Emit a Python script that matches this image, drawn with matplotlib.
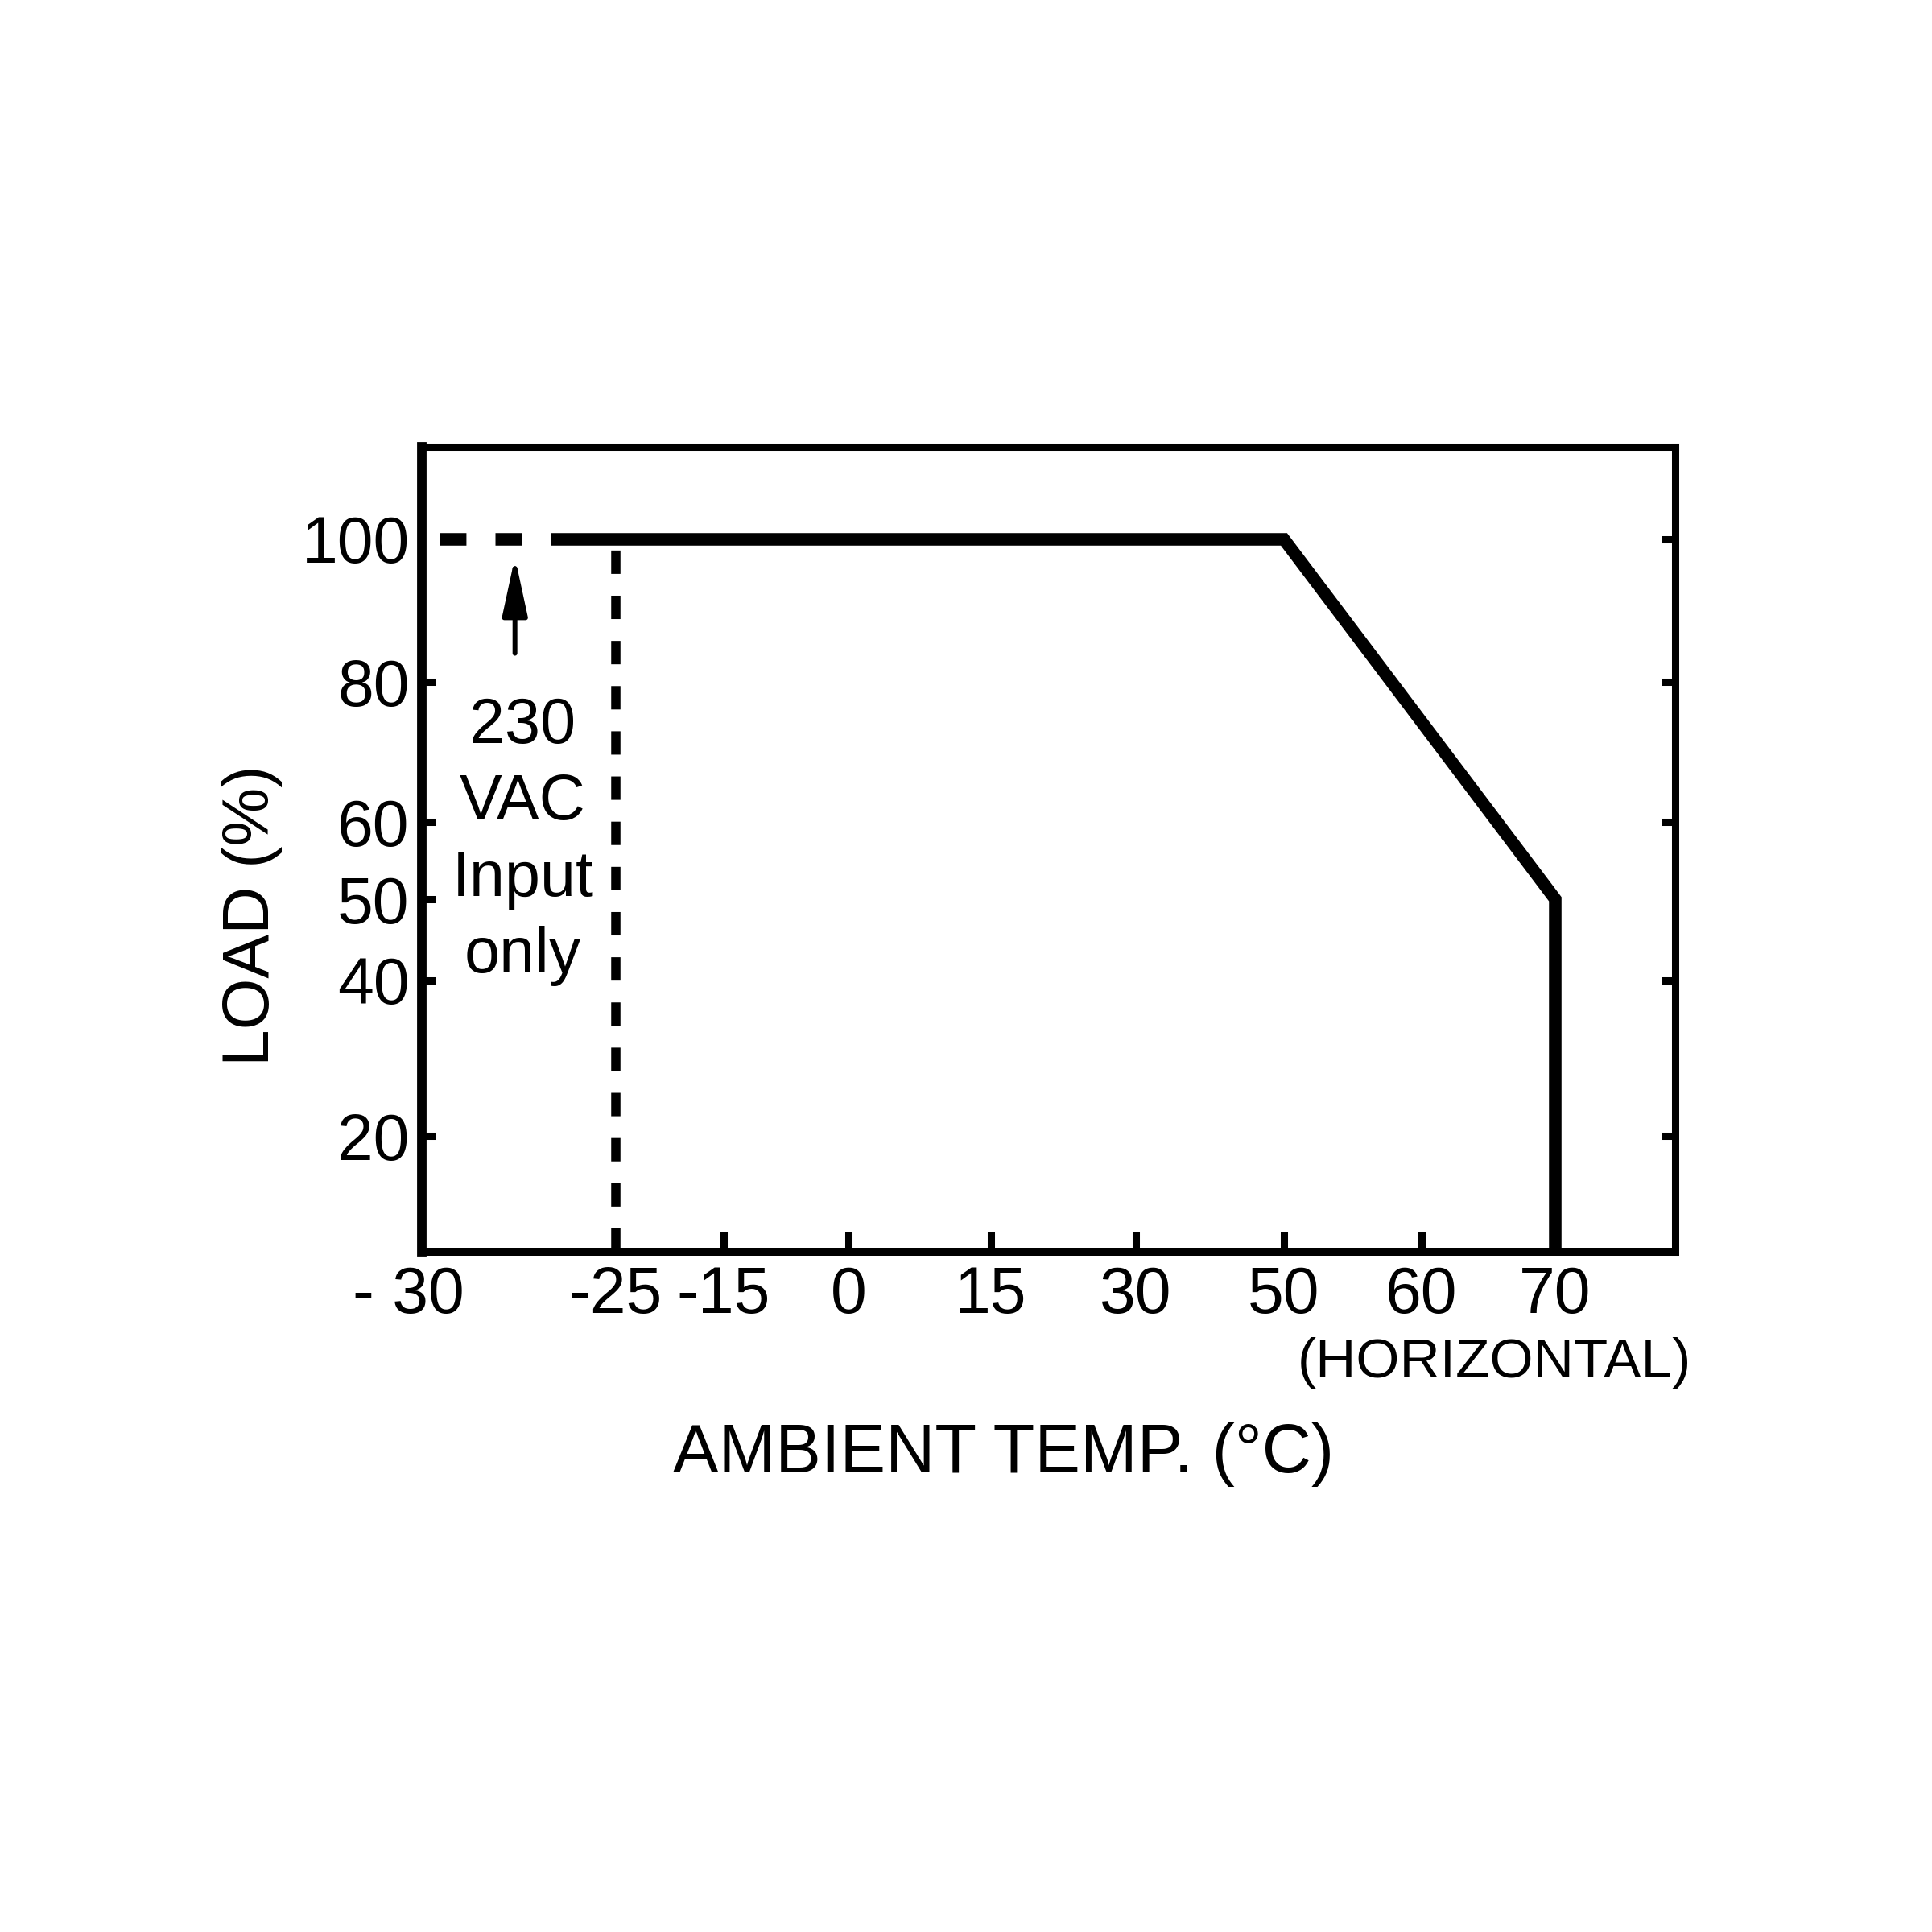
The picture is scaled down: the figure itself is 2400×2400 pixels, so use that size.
import numpy as np
import matplotlib
matplotlib.use("Agg")
import matplotlib.pyplot as plt
import matplotlib.transforms as mtransforms

plt.rcParams["font.family"] = ["Liberation Sans", "DejaVu Sans"]

# =====================================
# DATA
# =====================================

temp_ticks = [-30, -25, -15, 0, 15, 30, 50, 60, 70]
temp_tick_labels = ["- 30", "-25", "-15", "0", "15", "30", "50", "60", "70"]
load_ticks = [20, 40, 50, 60, 80, 100]
load_tick_labels = ["20", "40", "50", "60", "80", "100"]

# derating curve (load % vs ambient temperature)
curve_temp = [-25, 50, 70, 70]
curve_load = [100, 100, 50, 0]

# 230VAC-only extension down to -30C
input_only_temp = [-25, -30]
input_only_load = [100, 100]
limit_temp = -25

# arrow pointing to the dashed part
arrow_temp = -27.6
arrow_tip_load = 97.5
arrow_tail_load = 84.0

note_temp = -27.4
note_load = 57.5
note_text = "230\nVAC\nInput\nonly"

# =====================================
# AXIS SCALES (the drawing is not linear)
# =====================================

x_scale_vals = [-40, -30, -25, -15, 0, 15, 30, 50, 60, 70, 90]
x_scale_pos = [42, 524, 765, 899, 1054, 1231, 1411, 1595, 1766, 1932, 2264]
y_scale_vals = [0, 20, 40, 50, 60, 80, 100, 120]
y_scale_pos = [796, 989, 1182, 1283, 1379, 1553, 1730, 1907]


def x_fwd(v):
    return np.interp(v, x_scale_vals, x_scale_pos)


def x_inv(p):
    return np.interp(p, x_scale_pos, x_scale_vals)


def y_fwd(v):
    return np.interp(v, y_scale_vals, y_scale_pos)


def y_inv(p):
    return np.interp(p, y_scale_pos, y_scale_vals)


# =====================================
# PLOT
# =====================================

fig = plt.figure(figsize=(24, 24), dpi=100)
ax = fig.add_axes([524 / 2400, 845 / 2400, 1557 / 2400, 1000 / 2400])

ax.set_xscale("function", functions=(x_fwd, x_inv))
ax.set_yscale("function", functions=(y_fwd, y_inv))
ax.set_xlim(-30, float(x_inv(2081)))
ax.set_ylim(float(y_inv(845)), float(y_inv(1845)))

main_lw = 11.2

ax.plot(curve_temp, curve_load, color="black", lw=main_lw,
        solid_joinstyle="miter", solid_capstyle="butt", zorder=3)

ax.plot(input_only_temp, input_only_load, color="black", lw=main_lw,
        linestyle=(0, (5.16, 2.32, 2.13, 2.32, 2.13, 2.32)), zorder=3)

y_bottom = ax.get_ylim()[0]
ax.plot([limit_temp, limit_temp], [y_bottom, 100], color="black", lw=8.3,
        linestyle=(0, (2.52, 2.35)), zorder=2)

ax.annotate("", xy=(arrow_temp, arrow_tip_load),
            xytext=(arrow_temp, arrow_tail_load),
            arrowprops=dict(arrowstyle="-|>,head_length=4.4,head_width=0.95",
                            mutation_scale=10, lw=4.3, color="black",
                            shrinkA=0, shrinkB=0))

ax.text(note_temp, note_load, note_text, ha="center", va="center",
        fontsize=57, linespacing=1.35)

# ticks
ax.set_xticks(temp_ticks)
ax.set_xticklabels(temp_tick_labels)
ax.set_yticks(load_ticks)
ax.set_yticklabels(load_tick_labels)

ax.tick_params(axis="both", direction="in", labelsize=58, width=6.5)
ax.tick_params(axis="x", length=18, pad=12, top=False)
ax.tick_params(axis="y", length=12, pad=11, right=True)

# no left tick at 100, no right tick at 50
for val, tick in zip(load_ticks, ax.yaxis.get_major_ticks()):
    if val == 100:
        tick.tick1line.set_visible(False)
    if val == 50:
        tick.tick2line.set_visible(False)

# the "- 30" label sits a little left of the axis corner
first_label = ax.get_xticklabels()[0]
first_label.set_transform(first_label.get_transform() +
                          mtransforms.ScaledTranslation(-0.17, 0, fig.dpi_scale_trans))

ax.spines["left"].set_linewidth(8.5)
ax.spines["bottom"].set_linewidth(7.2)
ax.spines["top"].set_linewidth(6.5)
ax.spines["right"].set_linewidth(6.5)

# labels
ax.set_xlabel("AMBIENT TEMP. (°C)", fontsize=61)
ax.xaxis.label.set_va("baseline")
ax.xaxis.set_label_coords((1247 - 524) / 1557, -0.274)

ax.set_ylabel("LOAD (%)", fontsize=59)
ax.yaxis.label.set_va("baseline")
ax.yaxis.set_label_coords((334 - 524) / 1557, (1555 - 1137) / 1000)

ax.text(1.0128, -0.156, "(HORIZONTAL)", transform=ax.transAxes,
        ha="right", va="baseline", fontsize=50)

plt.savefig("out.png", dpi=100)
plt.close()
